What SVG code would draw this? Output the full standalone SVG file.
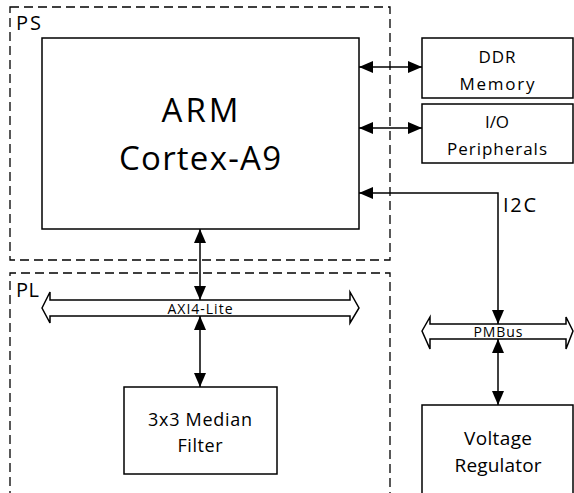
<svg xmlns="http://www.w3.org/2000/svg" width="574" height="493" viewBox="0 0 574 493">
<defs>
<marker id="ah" viewBox="0 0 14 12" refX="14" refY="6" markerWidth="14" markerHeight="12" markerUnits="userSpaceOnUse" orient="auto-start-reverse">
<path d="M0,0 L14,6 L0,12 z" fill="#000"/>
</marker>
</defs>
<style>
.dash{fill:none;stroke:#000;stroke-width:1.3;stroke-dasharray:9,5}
.box{fill:#fff;stroke:#000;stroke-width:1.5}
.bus{fill:#fff;stroke:#000;stroke-width:1.5}
.ln{fill:none;stroke:#000;stroke-width:1.5}
text{font-family:"Open Sans","Liberation Sans",sans-serif;fill:#000}
.c{text-anchor:middle}
</style>
<rect width="574" height="493" fill="#fff"/>
<g id="PS">
<rect class="dash" x="10" y="7" width="380" height="253"/>
<text x="16" y="30" font-size="20" textLength="25">PS</text>
</g>
<g id="PL">
<path class="dash" d="M10,500 V273 H390 V500"/>
<text x="16" y="297" font-size="20" textLength="23">PL</text>
</g>
<g id="connectors">
<line class="ln" x1="359" y1="67" x2="422" y2="67" marker-start="url(#ah)" marker-end="url(#ah)"/>
<line class="ln" x1="359" y1="128" x2="422" y2="128" marker-start="url(#ah)" marker-end="url(#ah)"/>
<polyline class="ln" points="498,324 498,193 359,193" marker-start="url(#ah)" marker-end="url(#ah)"/>
<line class="ln" x1="200" y1="229" x2="200" y2="300" marker-start="url(#ah)" marker-end="url(#ah)"/>
<line class="ln" x1="200" y1="316" x2="200" y2="387" marker-start="url(#ah)" marker-end="url(#ah)"/>
<line class="ln" x1="498" y1="339" x2="498" y2="405" marker-start="url(#ah)" marker-end="url(#ah)"/>
<text x="503" y="212" font-size="20" textLength="33">I2C</text>
</g>
<g id="ARM">
<rect class="box" x="42" y="38" width="317" height="191"/>
<text class="c" x="200" y="122" font-size="33" textLength="77">ARM</text>
<text class="c" x="200" y="170" font-size="33" textLength="162">Cortex-A9</text>
</g>
<g id="DDR">
<rect class="box" x="422" y="38" width="151" height="60"/>
<text class="c" x="497" y="63" font-size="17" textLength="37">DDR</text>
<text class="c" x="497" y="90" font-size="17" textLength="75">Memory</text>
</g>
<g id="IO">
<rect class="box" x="422" y="104" width="151" height="59"/>
<text class="c" x="497" y="128" font-size="17">I/O</text>
<text class="c" x="497" y="155" font-size="17" textLength="100">Peripherals</text>
</g>
<g id="AXI">
<path class="bus" d="M42,308 L50,292 L50,300 L350,300 L350,292 L359,308 L350,323 L350,316 L50,316 L50,323 Z"/>
<text class="c" x="200" y="314" font-size="14" textLength="65">AXI4-Lite</text>
</g>
<g id="Filter">
<rect class="box" x="124" y="387" width="153" height="87"/>
<text class="c" x="200" y="426" font-size="18" textLength="104">3x3 Median</text>
<text class="c" x="200" y="452" font-size="18" textLength="45">Filter</text>
</g>
<g id="PMBus">
<path class="bus" d="M422,331 L430,317 L430,324 L566,324 L566,317 L573,331 L566,349 L566,339 L430,339 L430,349 Z"/>
<text class="c" x="498" y="337" font-size="14" textLength="49">PMBus</text>
</g>
<g id="VR">
<rect class="box" x="422" y="405" width="151" height="100"/>
<text class="c" x="498" y="445" font-size="19" textLength="68">Voltage</text>
<text class="c" x="498" y="472" font-size="19" textLength="87">Regulator</text>
</g>
</svg>
